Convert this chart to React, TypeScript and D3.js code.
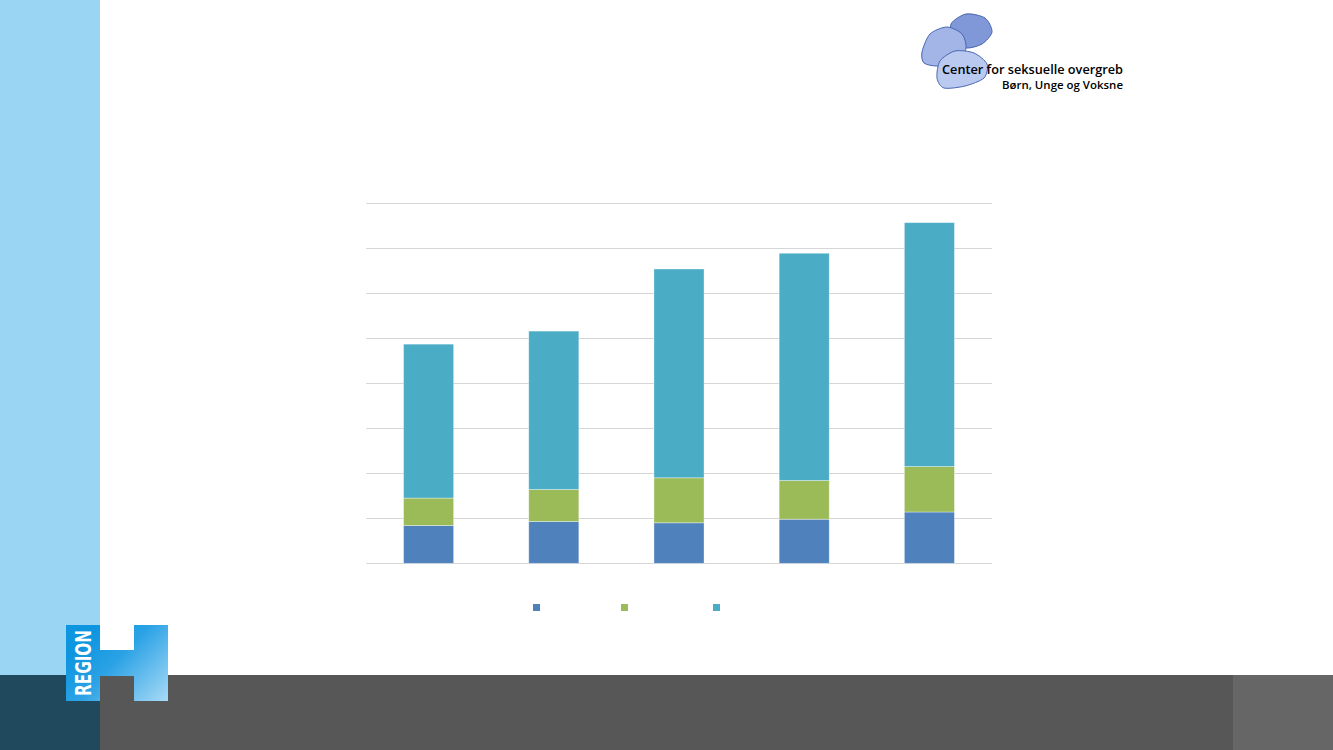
import React, { useEffect, useRef } from "react";
import * as d3 from "d3";

// ---- data (units read off the gridlines; no labels visible in the reference) ----
const categories = ["A", "B", "C", "D", "E"];
const seriesNames = ["Serie 1", "Serie 2", "Serie 3"];
const series1 = [84, 93, 90, 98, 114];
const series2 = [61, 71, 100, 86, 101];
const series3 = [342, 352, 464, 505, 542];
const yTicks = [0, 100, 200, 300, 400, 500, 600, 700, 800];
const seriesColors = ["#4f81bd", "#9bbb59", "#4bacc6"];

const W = 1333;
const H = 750;

export default function App() {
  const ref = useRef<SVGSVGElement | null>(null);

  useEffect(() => {
    const svg = d3.select(ref.current);
    svg.selectAll("*").remove();

    const defs = svg.append("defs");
    const grad = defs
      .append("linearGradient")
      .attr("id", "hgrad")
      .attr("gradientUnits", "userSpaceOnUse")
      .attr("x1", 95)
      .attr("y1", 630)
      .attr("x2", 170)
      .attr("y2", 702);
    grad.append("stop").attr("offset", 0).attr("stop-color", "#0e95df");
    grad.append("stop").attr("offset", 0.35).attr("stop-color", "#2ba2e5");
    grad.append("stop").attr("offset", 1).attr("stop-color", "#acdcf7");

    // background
    svg.append("rect").attr("width", W).attr("height", H).attr("fill", "#ffffff");
    svg.append("rect").attr("x", 0).attr("y", 0).attr("width", 100).attr("height", 675).attr("fill", "#9ad6f4");
    svg.append("rect").attr("x", 0).attr("y", 675).attr("width", 100).attr("height", 75).attr("fill", "#21495e");
    svg.append("rect").attr("x", 100).attr("y", 675).attr("width", 1133).attr("height", 75).attr("fill", "#575757");
    svg.append("rect").attr("x", 1233).attr("y", 675).attr("width", 100).attr("height", 75).attr("fill", "#666666");

    // Region H logo
    const hPath = "M66,625 H100 V650 H134 V625 H168 V701 H134 V676 H100 V701 H66 Z";
    svg.append("path").attr("d", hPath).attr("fill", "url(#hgrad)");
    svg
      .append("text")
      .attr("transform", "translate(91,663) rotate(-90)")
      .attr("text-anchor", "middle")
      .attr("font-family", "'DejaVu Sans', sans-serif")
      .attr("font-weight", "bold")
      .attr("font-size", 22)
      .attr("textLength", 66)
      .attr("lengthAdjust", "spacingAndGlyphs")
      .attr("fill", "#ffffff")
      .text("REGION");

    // CSO logo blobs
    const blob = d3.line().curve(d3.curveCardinalClosed.tension(0.2));
    const blobs: { pts: [number, number][]; fill: string }[] = [
      { pts: [[951, 24], [966, 14], [985, 18], [992, 32], [982, 44], [966, 48], [954, 40]], fill: "#8098d8" },
      { pts: [[922, 52], [930, 34], [947, 27], [962, 34], [966, 48], [958, 62], [938, 66], [924, 63]], fill: "#a2b5e6" },
      { pts: [[937, 78], [940, 61], [955, 51], [974, 53], [987, 64], [984, 78], [965, 86], [944, 88]], fill: "#b9c9ef" },
    ];
    blobs.forEach((b) => {
      svg
        .append("path")
        .attr("d", blob(b.pts) as string)
        .attr("fill", b.fill)
        .attr("stroke", "#4a66b0")
        .attr("stroke-width", 1);
    });
    svg
      .append("text")
      .attr("x", 942)
      .attr("y", 74)
      .attr("font-family", "'Open Sans', sans-serif")
      .attr("font-weight", 600)
      .attr("font-size", 13)
      .attr("textLength", 181)
      .attr("lengthAdjust", "spacingAndGlyphs")
      .attr("fill", "#000000")
      .text("Center for seksuelle overgreb");
    svg
      .append("text")
      .attr("x", 1002)
      .attr("y", 89)
      .attr("font-family", "'Open Sans', sans-serif")
      .attr("font-weight", 600)
      .attr("font-size", 11)
      .attr("textLength", 121)
      .attr("lengthAdjust", "spacingAndGlyphs")
      .attr("fill", "#000000")
      .text("Børn, Unge og Voksne");

    // chart
    const x = d3.scaleBand<string>().domain(categories).range([366, 992]).paddingInner(0.6).paddingOuter(0.3);
    const y = d3.scaleLinear().domain([0, 800]).range([563.3, 203.3]);

    const grid = svg.append("g");
    yTicks.forEach((t) => {
      grid
        .append("line")
        .attr("x1", 366)
        .attr("x2", 992)
        .attr("y1", Math.round(y(t)) + 0.5)
        .attr("y2", Math.round(y(t)) + 0.5)
        .attr("stroke", "#d6d6d6")
        .attr("stroke-width", 1.2);
    });

    const rows = categories.map((c, i) => ({ cat: c, s0: series1[i], s1: series2[i], s2: series3[i] }));
    const stack = d3.stack<any>().keys(["s0", "s1", "s2"]);
    const stacked = stack(rows);

    stacked.forEach((layer, li) => {
      svg
        .append("g")
        .selectAll("rect")
        .data(layer)
        .join("rect")
        .attr("x", (d: any) => x(d.data.cat) as number)
        .attr("width", x.bandwidth())
        .attr("y", (d: any) => y(d[1]))
        .attr("height", (d: any) => y(d[0]) - y(d[1]))
        .attr("fill", seriesColors[li])
        .attr("stroke", "rgba(255,255,255,0.45)")
        .attr("stroke-width", 0.8);
    });

    // legend markers (series names not visible in reference)
    const legendX = [533, 621, 713];
    seriesNames.forEach((name, i) => {
      const g = svg.append("g").attr("transform", `translate(${legendX[i]},604)`);
      g.append("rect").attr("width", 7).attr("height", 7).attr("fill", seriesColors[i]);
      g.append("title").text(name);
    });
  }, []);

  return (
    <svg
      ref={ref}
      width={W}
      height={H}
      style={{ position: "absolute", left: 0, top: 0, display: "block" }}
    />
  );
}
